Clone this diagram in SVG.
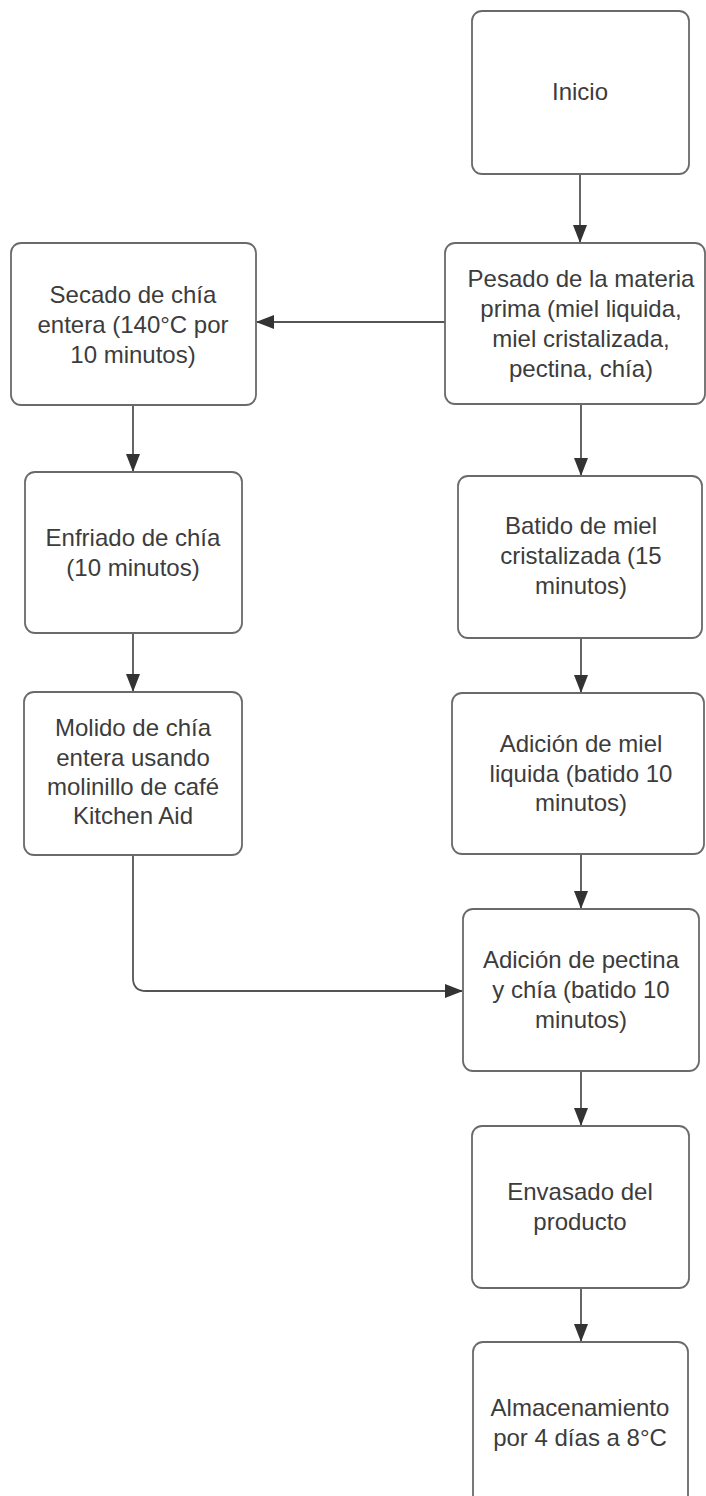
<svg xmlns="http://www.w3.org/2000/svg" width="706" height="1496" viewBox="0 0 706 1496">
<style>
.box{fill:#ffffff;stroke:#6a6a6a;stroke-width:1.8}
.t{font-family:"Liberation Sans",Arial,sans-serif;font-size:24px;fill:#3c3c3c;text-anchor:middle;dominant-baseline:central}
.c{fill:none;stroke:#555555;stroke-width:1.8}
</style>
<defs>
<marker id="ah" markerWidth="18" markerHeight="14" refX="17" refY="7" orient="auto" markerUnits="userSpaceOnUse">
<path d="M0,0 L18,7 L0,14 Z" fill="#333333"/>
</marker>
</defs>
<rect width="706" height="1496" fill="#ffffff"/>
<g id="connectors">
<path class="c" d="M580,174 L580,242" marker-end="url(#ah)"/>
<path class="c" d="M445,322 L257,322" marker-end="url(#ah)"/>
<path class="c" d="M581,404 L581,475" marker-end="url(#ah)"/>
<path class="c" d="M133,405 L133,471" marker-end="url(#ah)"/>
<path class="c" d="M133,633 L133,691" marker-end="url(#ah)"/>
<path class="c" d="M581,638 L581,692" marker-end="url(#ah)"/>
<path class="c" d="M581,854 L581,908" marker-end="url(#ah)"/>
<path class="c" d="M133,855 L133,978 Q133,991 146,991 L462,991" marker-end="url(#ah)"/>
<path class="c" d="M581,1071 L581,1125" marker-end="url(#ah)"/>
<path class="c" d="M581,1288 L581,1341" marker-end="url(#ah)"/>
</g>
<g id="inicio">
<rect class="box" x="472" y="11" width="217" height="163" rx="10"/>
<text class="t" x="580" y="91">Inicio</text>
</g>
<g id="pesado">
<rect class="box" x="445" y="243" width="260" height="161" rx="10"/>
<text class="t" x="581" y="278">Pesado de la materia</text>
<text class="t" x="581" y="308">prima (miel liquida,</text>
<text class="t" x="581" y="338">miel cristalizada,</text>
<text class="t" x="581" y="368">pectina, chía)</text>
</g>
<g id="secado">
<rect class="box" x="11" y="243" width="245" height="162" rx="10"/>
<text class="t" x="133" y="294">Secado de chía</text>
<text class="t" x="133" y="324">entera (140°C por</text>
<text class="t" x="133" y="354">10 minutos)</text>
</g>
<g id="enfriado">
<rect class="box" x="25" y="472" width="217" height="161" rx="10"/>
<text class="t" x="133" y="537">Enfriado de chía</text>
<text class="t" x="133" y="567">(10 minutos)</text>
</g>
<g id="batido">
<rect class="box" x="458" y="476" width="244" height="162" rx="10"/>
<text class="t" x="581" y="525">Batido de miel</text>
<text class="t" x="581" y="555">cristalizada (15</text>
<text class="t" x="581" y="585">minutos)</text>
</g>
<g id="molido">
<rect class="box" x="24" y="692" width="218" height="163" rx="10"/>
<text class="t" x="133" y="727">Molido de chía</text>
<text class="t" x="133" y="757">entera usando</text>
<text class="t" x="133" y="786">molinillo de café</text>
<text class="t" x="133" y="815">Kitchen Aid</text>
</g>
<g id="adicion-miel">
<rect class="box" x="452" y="693" width="252" height="161" rx="10"/>
<text class="t" x="581" y="743">Adición de miel</text>
<text class="t" x="581" y="773">liquida (batido 10</text>
<text class="t" x="581" y="802">minutos)</text>
</g>
<g id="adicion-pectina">
<rect class="box" x="463" y="909" width="236" height="162" rx="10"/>
<text class="t" x="581" y="959">Adición de pectina</text>
<text class="t" x="581" y="989">y chía (batido 10</text>
<text class="t" x="581" y="1019">minutos)</text>
</g>
<g id="envasado">
<rect class="box" x="472" y="1126" width="217" height="162" rx="10"/>
<text class="t" x="580" y="1191">Envasado del</text>
<text class="t" x="580" y="1221">producto</text>
</g>
<g id="almacenamiento">
<rect class="box" x="473" y="1342" width="215" height="165" rx="10"/>
<text class="t" x="580" y="1407">Almacenamiento</text>
<text class="t" x="580" y="1437">por 4 días a 8°C</text>
</g>
</svg>
